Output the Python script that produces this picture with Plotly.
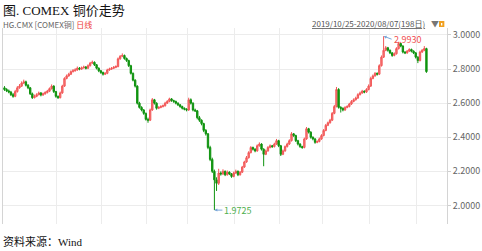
import pandas as pd
import plotly.graph_objects as go

# trading days 2019/10/25 - 2020/08/07 (198 days)
holidays = ["2019-11-28", "2019-12-25", "2020-01-01", "2020-01-20",
            "2020-02-17", "2020-04-10", "2020-05-25", "2020-07-03"]
dates = [d for d in pd.bdate_range("2019-10-25", "2020-08-07")
         if d.strftime("%Y-%m-%d") not in holidays]

open_ = [
    2.690, 2.680, 2.672, 2.665, 2.650, 2.640, 2.668, 2.690, 2.700, 2.718,
    2.725, 2.705, 2.690, 2.655, 2.632, 2.640, 2.650, 2.660, 2.648, 2.655,
    2.662, 2.670, 2.685, 2.700, 2.668, 2.640, 2.632, 2.660, 2.700, 2.745,
    2.760, 2.770, 2.785, 2.790, 2.795, 2.805, 2.800, 2.808, 2.812, 2.805,
    2.820, 2.835, 2.840, 2.825, 2.805, 2.790, 2.780, 2.770, 2.775, 2.795,
    2.800, 2.805, 2.810, 2.815, 2.860, 2.875, 2.880, 2.862, 2.850, 2.820,
    2.775, 2.735, 2.700, 2.600, 2.575, 2.560, 2.540, 2.505, 2.500, 2.560,
    2.620, 2.600, 2.570, 2.575, 2.580, 2.585, 2.600, 2.610, 2.625, 2.615,
    2.610, 2.600, 2.590, 2.580, 2.570, 2.565, 2.560, 2.620, 2.600, 2.560,
    2.555, 2.515, 2.500, 2.480, 2.440, 2.420, 2.340, 2.270, 2.200, 2.150,
    2.130, 2.190, 2.185, 2.200, 2.180, 2.195, 2.185, 2.170, 2.190, 2.200,
    2.180, 2.195, 2.225, 2.255, 2.280, 2.310, 2.340, 2.330, 2.320, 2.350,
    2.360, 2.330, 2.300, 2.320, 2.340, 2.350, 2.345, 2.360, 2.380, 2.350,
    2.300, 2.320, 2.345, 2.360, 2.380, 2.420, 2.410, 2.380, 2.360, 2.345,
    2.340, 2.390, 2.450, 2.430, 2.400, 2.390, 2.370, 2.375, 2.390, 2.410,
    2.440, 2.470, 2.485, 2.500, 2.540, 2.580, 2.680, 2.575, 2.570, 2.560,
    2.575, 2.580, 2.595, 2.610, 2.620, 2.630, 2.650, 2.660, 2.670, 2.665,
    2.680, 2.700, 2.745, 2.760, 2.775, 2.770, 2.820, 2.870, 2.910, 2.925,
    2.910, 2.895, 2.880, 2.890, 2.920, 2.950, 2.935, 2.900, 2.895, 2.905,
    2.915, 2.905, 2.895, 2.870, 2.850, 2.900, 2.910, 2.920,
]
close = [
    2.680, 2.672, 2.665, 2.650, 2.640, 2.668, 2.690, 2.700, 2.718, 2.725,
    2.705, 2.690, 2.655, 2.632, 2.640, 2.650, 2.660, 2.648, 2.655, 2.662,
    2.670, 2.685, 2.700, 2.668, 2.640, 2.632, 2.660, 2.700, 2.745, 2.760,
    2.770, 2.785, 2.790, 2.795, 2.805, 2.800, 2.808, 2.812, 2.805, 2.820,
    2.835, 2.840, 2.825, 2.805, 2.790, 2.780, 2.770, 2.775, 2.795, 2.800,
    2.805, 2.810, 2.815, 2.860, 2.875, 2.880, 2.862, 2.850, 2.820, 2.775,
    2.735, 2.700, 2.600, 2.575, 2.560, 2.540, 2.505, 2.500, 2.560, 2.620,
    2.600, 2.570, 2.575, 2.580, 2.585, 2.600, 2.610, 2.625, 2.615, 2.610,
    2.600, 2.590, 2.580, 2.570, 2.565, 2.560, 2.620, 2.600, 2.560, 2.555,
    2.515, 2.500, 2.480, 2.440, 2.420, 2.340, 2.270, 2.200, 2.150, 2.130,
    2.190, 2.185, 2.200, 2.180, 2.195, 2.185, 2.170, 2.190, 2.200, 2.180,
    2.195, 2.225, 2.255, 2.280, 2.310, 2.340, 2.330, 2.320, 2.350, 2.360,
    2.330, 2.300, 2.320, 2.340, 2.350, 2.345, 2.360, 2.380, 2.350, 2.300,
    2.320, 2.345, 2.360, 2.380, 2.420, 2.410, 2.380, 2.360, 2.345, 2.340,
    2.390, 2.450, 2.430, 2.400, 2.390, 2.370, 2.375, 2.390, 2.410, 2.440,
    2.470, 2.485, 2.500, 2.540, 2.580, 2.680, 2.575, 2.570, 2.560, 2.575,
    2.580, 2.595, 2.610, 2.620, 2.630, 2.650, 2.660, 2.670, 2.665, 2.680,
    2.700, 2.745, 2.760, 2.775, 2.770, 2.820, 2.870, 2.910, 2.925, 2.910,
    2.895, 2.880, 2.890, 2.920, 2.950, 2.935, 2.900, 2.895, 2.905, 2.915,
    2.905, 2.895, 2.870, 2.850, 2.900, 2.910, 2.920, 2.785,
]
high = [
    2.700, 2.688, 2.680, 2.672, 2.660, 2.678, 2.700, 2.712, 2.728, 2.738,
    2.732, 2.712, 2.695, 2.662, 2.650, 2.658, 2.668, 2.665, 2.662, 2.670,
    2.678, 2.692, 2.710, 2.705, 2.672, 2.645, 2.668, 2.708, 2.752, 2.768,
    2.778, 2.792, 2.800, 2.805, 2.815, 2.812, 2.815, 2.820, 2.818, 2.828,
    2.842, 2.850, 2.845, 2.830, 2.810, 2.795, 2.785, 2.782, 2.802, 2.808,
    2.812, 2.818, 2.822, 2.868, 2.882, 2.892, 2.885, 2.868, 2.855, 2.825,
    2.780, 2.740, 2.705, 2.608, 2.582, 2.565, 2.545, 2.515, 2.568, 2.630,
    2.625, 2.605, 2.582, 2.588, 2.592, 2.608, 2.618, 2.632, 2.630, 2.620,
    2.615, 2.605, 2.595, 2.585, 2.575, 2.570, 2.632, 2.628, 2.605, 2.568,
    2.560, 2.525, 2.505, 2.485, 2.448, 2.425, 2.350, 2.280, 2.210, 2.165,
    2.215, 2.200, 2.212, 2.205, 2.205, 2.200, 2.190, 2.198, 2.210, 2.205,
    2.202, 2.232, 2.262, 2.290, 2.318, 2.348, 2.345, 2.335, 2.358, 2.370,
    2.365, 2.335, 2.328, 2.348, 2.358, 2.355, 2.368, 2.390, 2.385, 2.355,
    2.328, 2.352, 2.368, 2.388, 2.430, 2.425, 2.415, 2.385, 2.365, 2.350,
    2.398, 2.460, 2.455, 2.435, 2.405, 2.395, 2.382, 2.398, 2.418, 2.448,
    2.478, 2.492, 2.508, 2.548, 2.590, 2.695, 2.688, 2.582, 2.575, 2.582,
    2.588, 2.602, 2.618, 2.628, 2.638, 2.658, 2.668, 2.678, 2.675, 2.688,
    2.710, 2.755, 2.768, 2.782, 2.780, 2.828, 2.880, 2.993, 2.935, 2.930,
    2.915, 2.900, 2.898, 2.928, 2.960, 2.955, 2.940, 2.905, 2.912, 2.922,
    2.920, 2.910, 2.900, 2.875, 2.908, 2.918, 2.935, 2.925,
]
low = [
    2.672, 2.665, 2.658, 2.642, 2.632, 2.635, 2.662, 2.685, 2.695, 2.712,
    2.698, 2.682, 2.648, 2.625, 2.628, 2.635, 2.645, 2.640, 2.643, 2.650,
    2.657, 2.665, 2.680, 2.660, 2.632, 2.625, 2.628, 2.655, 2.695, 2.740,
    2.755, 2.765, 2.780, 2.785, 2.790, 2.793, 2.795, 2.802, 2.798, 2.800,
    2.815, 2.830, 2.818, 2.798, 2.782, 2.772, 2.762, 2.765, 2.770, 2.790,
    2.795, 2.800, 2.805, 2.810, 2.855, 2.870, 2.855, 2.842, 2.812, 2.768,
    2.728, 2.692, 2.592, 2.568, 2.552, 2.532, 2.498, 2.485, 2.495, 2.555,
    2.592, 2.562, 2.565, 2.570, 2.575, 2.580, 2.595, 2.605, 2.608, 2.602,
    2.593, 2.583, 2.573, 2.563, 2.558, 2.552, 2.555, 2.592, 2.552, 2.548,
    2.505, 2.490, 2.470, 2.430, 2.410, 2.330, 2.260, 2.190, 1.9725, 2.085,
    2.120, 2.175, 2.178, 2.172, 2.175, 2.178, 2.162, 2.165, 2.185, 2.172,
    2.175, 2.190, 2.220, 2.250, 2.275, 2.305, 2.322, 2.312, 2.315, 2.345,
    2.322, 2.230, 2.295, 2.315, 2.335, 2.338, 2.340, 2.355, 2.342, 2.290,
    2.295, 2.315, 2.340, 2.355, 2.375, 2.402, 2.372, 2.352, 2.338, 2.332,
    2.335, 2.385, 2.422, 2.392, 2.382, 2.362, 2.365, 2.370, 2.385, 2.405,
    2.435, 2.465, 2.480, 2.495, 2.535, 2.575, 2.568, 2.545, 2.552, 2.555,
    2.570, 2.575, 2.590, 2.605, 2.615, 2.625, 2.645, 2.655, 2.658, 2.660,
    2.675, 2.695, 2.740, 2.755, 2.762, 2.765, 2.815, 2.865, 2.905, 2.902,
    2.888, 2.872, 2.875, 2.885, 2.915, 2.928, 2.892, 2.888, 2.890, 2.900,
    2.898, 2.888, 2.862, 2.835, 2.845, 2.895, 2.905, 2.778,
]
y_ticks = [2.0, 2.2, 2.4, 2.6, 2.8, 3.0]
peak_label = "2.9930"
trough_label = "1.9725"

idx = list(range(len(dates)))
month_starts = [i - 0.5 for i in idx[1:] if dates[i].month != dates[i - 1].month][1:]
peak_i = high.index(max(high))
trough_i = low.index(min(low))

fig = go.Figure(go.Candlestick(
    x=idx, open=open_, high=high, low=low, close=close,
    text=[d.strftime("%Y-%m-%d") for d in dates],
    increasing=dict(line=dict(color="#f25757", width=1), fillcolor="#f77c7c"),
    decreasing=dict(line=dict(color="#0f930f", width=1), fillcolor="#0f930f"),
    whiskerwidth=0, showlegend=False,
))

fig.update_layout(
    width=482, height=251,
    margin=dict(l=2, r=27, t=28, b=27),
    paper_bgcolor="white", plot_bgcolor="white",
    boxgap=0.1,
    font=dict(family="Noto Sans CJK SC, sans-serif", color="#666"),
    xaxis=dict(range=[-0.7, 206.6], tickvals=month_starts, showticklabels=False,
               showgrid=True, gridcolor="#ececec", gridwidth=1, zeroline=False,
               rangeslider=dict(visible=False), ticks=""),
    yaxis=dict(side="right", range=[1.891, 3.041], tickvals=y_ticks,
               tickformat=".4f", showgrid=True, gridcolor="#ececec",
               zeroline=False, showline=True, linecolor="#d4d4d4", mirror=True,
               ticks="outside", ticklen=3, tickcolor="#cfcfcf",
               tickfont=dict(size=9, color="#666")),
)

fig.add_annotation(x=peak_i, y=max(high), text=peak_label, showarrow=True,
                   ax=8, ay=3, xanchor="left", yanchor="middle",
                   arrowcolor="#7aa7d9", arrowwidth=1, arrowhead=2, arrowsize=0.6,
                   font=dict(size=9, color="#f05050"))
fig.add_annotation(x=trough_i, y=min(low), text=trough_label, showarrow=True,
                   ax=8, ay=0, xanchor="left", yanchor="middle",
                   arrowcolor="#7aa7d9", arrowwidth=1, arrowhead=2, arrowsize=0.6,
                   font=dict(size=9, color="#4cae4c"))

# header row (just above the plot)
fig.add_annotation(xref="paper", yref="paper", x=-0.004, y=1.0, yshift=4,
                   xanchor="left", yanchor="middle", showarrow=False,
                   text="HG.CMX [COMEX铜] <span style='color:#ee3b3b'>日线</span>",
                   font=dict(size=8, color="#666"))
fig.add_annotation(xref="paper", yref="paper", x=0.955, y=1.0, yshift=5,
                   xanchor="right", yanchor="middle", showarrow=False,
                   text="<u>2019/10/25-2020/08/07(198日)</u>",
                   font=dict(size=8, color="#555"))
fig.add_annotation(xref="paper", yref="paper", x=0.972, y=1.0, yshift=5,
                   xanchor="center", yanchor="middle", showarrow=False,
                   text="▼", font=dict(size=8, color="#777"))
fig.add_shape(type="rect", xref="paper", yref="paper", x0=0.982, x1=0.994,
              y0=1, y1=7, ysizemode="pixel", yanchor=1.0,
              fillcolor="#f0a020", line=dict(width=0))
fig.add_shape(type="rect", xref="paper", yref="paper", x0=0.9865, x1=0.9895,
              y0=2.5, y1=5, ysizemode="pixel", yanchor=1.0,
              fillcolor="white", line=dict(width=0))

# title and source
fig.add_annotation(xref="paper", yref="paper", x=-0.004, y=1.0, yshift=18,
                   xanchor="left", yanchor="middle", showarrow=False,
                   text="图. COMEX 铜价走势",
                   font=dict(size=13, color="#111", family="Liberation Serif, Noto Sans CJK SC"))
fig.add_annotation(xref="paper", yref="paper", x=-0.004, y=0.0, yshift=-17,
                   xanchor="left", yanchor="middle", showarrow=False,
                   text="资料来源：Wind",
                   font=dict(size=11, color="#111", family="Liberation Serif, Noto Sans CJK SC"))

fig.write_html("out.html")
